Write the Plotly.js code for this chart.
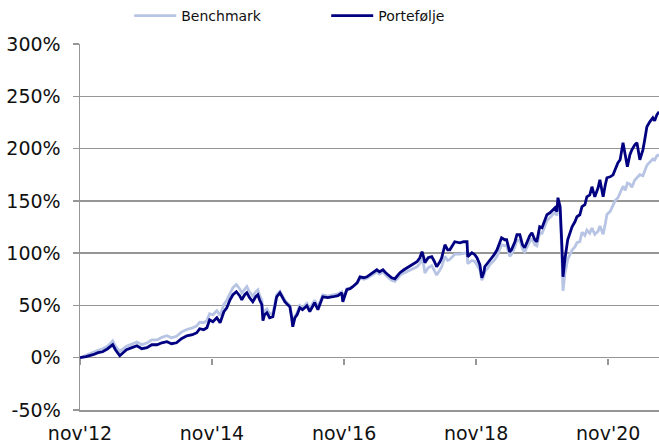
<!DOCTYPE html>
<html><head><meta charset="utf-8">
<script src="https://cdn.plot.ly/plotly-3.0.1.min.js"></script>
<style>html,body{margin:0;padding:0;background:#fff}#chart{width:659px;height:448px}</style>
</head><body><div id="chart"></div>
<script>
const dates = ['2012-11-01','2012-12-04','2013-01-12','2013-02-09','2013-03-06','2013-04-03','2013-05-01','2013-05-16','2013-06-09','2013-07-01','2013-07-16','2013-08-15','2013-09-12','2013-10-09','2013-11-06','2013-12-03','2014-01-01','2014-01-28','2014-02-25','2014-03-22','2014-04-19','2014-05-16','2014-06-15','2014-07-16','2014-08-09','2014-08-25','2014-09-16','2014-10-04','2014-10-19','2014-11-06','2014-11-28','2014-12-16','2015-01-06','2015-01-22','2015-02-09','2015-02-25','2015-03-16','2015-04-03','2015-04-15','2015-05-01','2015-05-13','2015-05-28','2015-06-15','2015-07-01','2015-07-13','2015-07-22','2015-08-04','2015-08-10','2015-08-19','2015-09-01','2015-09-16','2015-10-04','2015-10-16','2015-10-25','2015-11-12','2015-11-28','2015-12-09','2015-12-25','2016-01-06','2016-01-16','2016-01-22','2016-02-03','2016-02-15','2016-03-01','2016-03-16','2016-04-09','2016-04-25','2016-05-22','2016-06-09','2016-07-06','2016-08-03','2016-09-01','2016-09-28','2016-10-19','2016-10-25','2016-11-16','2016-12-04','2016-12-19','2017-01-12','2017-01-28','2017-02-19','2017-03-07','2017-03-22','2017-04-09','2017-05-01','2017-05-16','2017-06-04','2017-06-19','2017-07-01','2017-07-22','2017-08-09','2017-08-25','2017-09-06','2017-09-28','2017-10-16','2017-11-01','2017-11-22','2017-12-09','2017-12-25','2018-01-06','2018-01-16','2018-01-22','2018-02-09','2018-03-01','2018-03-16','2018-03-28','2018-04-15','2018-04-25','2018-05-13','2018-05-28','2018-06-09','2018-07-06','2018-08-03','2018-08-25','2018-09-12','2018-09-16','2018-10-09','2018-10-25','2018-11-06','2018-11-22','2018-12-03','2018-12-15','2018-12-19','2019-01-06','2019-01-16','2019-02-09','2019-02-25','2019-03-12','2019-03-22','2019-04-09','2019-04-19','2019-05-06','2019-05-16','2019-06-04','2019-06-15','2019-07-01','2019-07-16','2019-07-28','2019-08-09','2019-08-25','2019-09-06','2019-09-22','2019-10-03','2019-10-19','2019-11-01','2019-11-16','2019-11-28','2019-12-15','2020-01-01','2020-01-12','2020-01-22','2020-01-28','2020-02-09','2020-02-15','2020-02-19','2020-02-25','2020-03-01','2020-03-06','2020-03-22','2020-04-15','2020-05-01','2020-05-12','2020-05-28','2020-06-09','2020-06-25','2020-07-06','2020-07-22','2020-08-03','2020-08-19','2020-09-06','2020-09-16','2020-10-04','2020-10-16','2020-10-25','2020-11-12','2020-11-28','2020-12-09','2020-12-25','2021-01-06','2021-01-22','2021-02-03','2021-02-15','2021-03-01','2021-03-12','2021-03-28','2021-04-09','2021-04-25','2021-05-12','2021-05-22','2021-06-03','2021-06-19','2021-07-06','2021-07-16','2021-07-28','2021-08-09'];

const portfolio = [0,1,2.9,4.8,5.7,8.6,12.4,7.6,1.9,5.7,7.6,9.6,11.5,8.6,9.6,12.4,12.4,14.3,15.3,13.4,14.3,18.2,21.0,22.0,23.9,27.7,26.8,28.7,36.3,34.4,38.2,33.5,44.0,47.8,55.4,60.2,63.1,59.3,55.4,60.2,62.1,57.4,53.5,58.3,60.2,55.4,50.7,35.4,41.1,43.0,38.2,39.2,50.7,58.3,62.1,57.4,53.5,50.7,48.8,38.2,29.6,38.2,41.1,47.8,45.9,49.7,44.0,52.6,45.9,58.3,57.4,58.3,59.3,62.1,53.5,65.0,66.0,67.9,71.7,77.4,76.5,77.4,79.3,81.3,84.1,82.2,84.1,81.3,79.3,76.5,75.5,78.4,81.3,84.1,86.0,88.0,89.9,91.8,95.6,101.3,95.6,90.8,95.6,96.6,91.8,87.0,91.8,95.6,108.0,103.2,103.2,110.9,109.9,110.9,110.9,96.6,100.4,98.5,95.6,88.9,76.5,82.2,87.0,90.8,93.7,98.5,103.2,110.9,114.7,112.8,112.8,101.3,103.2,110.9,117.6,117.6,108.0,105.2,110.9,116.6,119.5,112.8,110.9,125.2,124.3,131.9,136.7,138.6,141.5,143.4,139.6,153.0,144.4,127.1,106.1,77.4,86.0,93.7,112.8,125.2,130.0,134.8,136.7,144.4,146.3,153.9,155.8,163.5,153.9,162.5,170.2,153.9,165.4,172.1,173.0,174.9,179.7,186.4,189.3,205.5,194.1,182.6,194.1,198.8,203.6,205.5,189.3,198.8,208.4,220.8,225.6,229.4,226.5,232.3,235.2];

const benchmark = [0,2.5,5,7,8.5,11,16,11,6,9,11,13,15,12.5,14,17,17,19.5,21,19,20.5,24.5,27,28.5,30.5,34,33.5,35.5,42,41,45,40.5,51,55,62,67,70,66,62,66,68,63,59,63,65,60,55,40,45,46.5,42,42.5,53,60,63.5,59,55,52,50,40,32,40,43,50,48,52,47,55,48.5,60,59,60,61,63,55,66,66.5,68,71,76,75,76,78,79.5,82,80,82,79,77,74,73,76,79,81,82.5,84,85,87,90,95,88,81,86,88,83,79,84,87,97,93,94,99,99,100,100.5,90,93,92,89,84,74,79,83,86,89,93,97,104,108,107,107.5,97,99,106,112,112.5,104,101,106,111,114,108,107,119,119,126,131,134,137,139,136,147,141,120,95,64,72,80,94,103,106,110,111,120,117,122,119,124,118,121,126,118,128,137,140,146,150,153,158,164,160,167,166,163,170,172,175,174,178,184,187,190,189,193,194];

const seriesNames = ['Benchmark', 'Portefølje'];
const seriesColors = ['#b7c4e3', '#000080'];
const xRange = ['2012-11-01', '2021-08-09'];
const xTickVals = ['2012-11-01','2014-11-01','2016-11-01','2018-11-01','2020-11-01'];
const xTickText = ["nov'12","nov'14","nov'16","nov'18","nov'20"];
const yTickVals = [-50,0,50,100,150,200,250,300];
const yTickText = ['-50%','0%','50%','100%','150%','200%','250%','300%'];

const FONT = 'DejaVu Sans, Verdana, sans-serif';
const GRID = '#969696';

const traces = [
  {x: dates, y: benchmark, name: seriesNames[0], type: 'scatter', mode: 'lines',
   line: {color: seriesColors[0], width: 2.8}, xaxis: 'x', yaxis: 'y'},
  {x: dates, y: portfolio, name: seriesNames[1], type: 'scatter', mode: 'lines',
   line: {color: seriesColors[1], width: 2.8}, xaxis: 'x2', yaxis: 'y'}
];

const layout = {
  width: 659, height: 448,
  margin: {l: 80, r: 0, t: 44, b: 38, pad: 0},
  paper_bgcolor: '#fff', plot_bgcolor: '#fff',
  font: {family: FONT, size: 19, color: '#111'},
  showlegend: true,
  legend: {orientation: 'h', x: 0.085, xanchor: 'left', y: 1.0765, yanchor: 'middle',
           font: {family: FONT, size: 14, color: '#111'}, itemwidth: 42,
           entrywidth: 140, bgcolor: 'rgba(0,0,0,0)', traceorder: 'normal'},
  xaxis: {type: 'date', range: xRange, tickvals: xTickVals, ticktext: xTickText,
          showgrid: false, zeroline: false, showline: true, linecolor: GRID, linewidth: 1.5,
          ticks: '', ticklabelstandoff: 6, tickfont: {family: FONT, size: 19, color: '#111'}},
  xaxis2: {type: 'date', range: xRange, tickvals: xTickVals, overlaying: 'x', anchor: 'free',
           position: 50/350, side: 'bottom', showgrid: false, zeroline: false, showline: false,
           ticks: 'outside', ticklen: 6, tickwidth: 2, tickcolor: GRID, showticklabels: false},
  yaxis: {range: [-50, 300], tickvals: yTickVals, ticktext: yTickText, showgrid: true,
          gridcolor: GRID, gridwidth: 1.5, zeroline: false, showline: true, linecolor: GRID,
          linewidth: 1.5, ticks: 'outside', ticklen: 6, tickwidth: 1.5, tickcolor: GRID,
          ticklabelstandoff: 8, tickfont: {family: FONT, size: 19, color: '#111'}}
};

Plotly.newPlot('chart', traces, layout, {displayModeBar: false, staticPlot: true});
</script>
</body></html>
